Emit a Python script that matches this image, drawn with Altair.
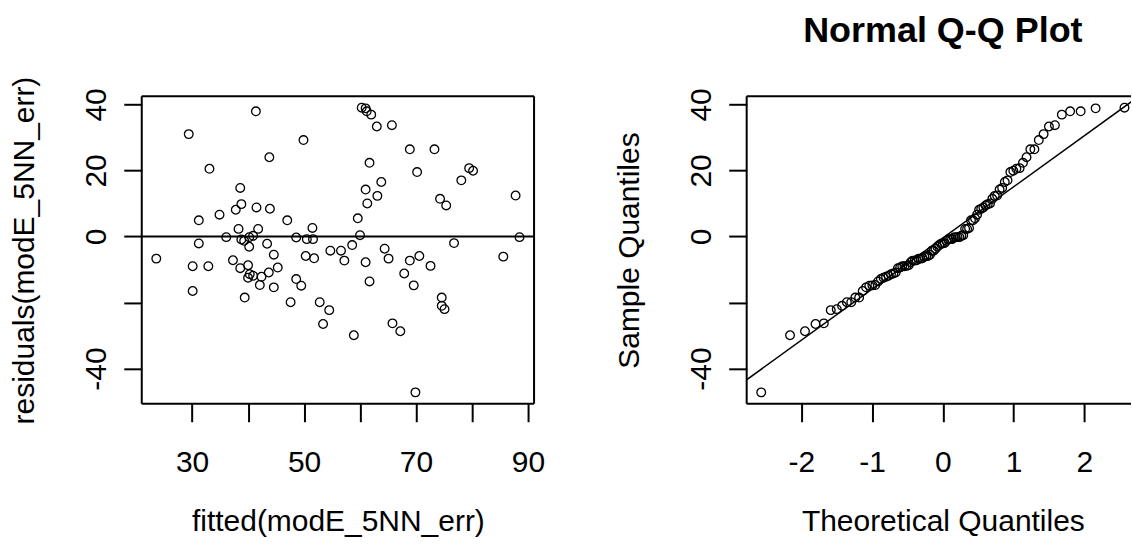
import altair as alt
import pandas as pd
from statistics import NormalDist

# ---- data (fitted values and residuals) ----
fitted = [41.4, 29.4, 49.9, 43.8, 33.1, 38.6, 38.8, 41.5, 43.9, 37.8, 34.9, 31.2, 47.0,
          38.3, 41.8, 51.5, 36.1, 38.8, 39.3, 40.2, 40.9, 40.2, 48.6, 50.5, 51.6, 31.2,
          43.4, 44.6, 23.6, 37.3, 30.1, 32.9, 38.6, 40.0, 45.3, 43.7, 42.4, 40.3, 40.9,
          40.0, 50.3, 51.8, 54.7, 48.6, 49.5, 42.1, 44.6, 30.1, 39.4, 47.6, 52.8, 54.5,
          53.4,
          60.3, 61.0, 61.2, 62.0, 63.0, 65.7, 68.9, 73.3, 61.7, 70.2, 79.5, 80.2, 78.1,
          63.8, 61.0, 63.1, 61.3, 74.3, 75.4, 87.8, 59.6, 60.0, 88.5, 76.8, 58.6, 56.6,
          57.2, 61.0, 64.4, 65.1, 68.9, 70.6, 85.6, 72.6, 67.9, 61.7, 69.6, 74.6, 74.6,
          75.1, 65.8, 67.2, 58.9, 69.9]
resid = [37.9, 31.0, 29.2, 24.0, 20.5, 14.7, 9.8, 8.8, 8.4, 8.1, 6.6, 4.9, 4.9,
         2.3, 2.3, 2.6, -0.2, -0.9, -1.3, -0.2, 0.2, -3.1, -0.3, -0.8, -0.8, -2.1,
         -2.2, -5.5, -6.7, -7.2, -9.0, -9.0, -9.6, -8.7, -9.4, -10.9, -12.2, -11.4, -11.9,
         -12.5, -5.9, -6.6, -4.3, -12.9, -14.9, -14.7, -15.4, -16.5, -18.5, -19.9, -19.9, -22.3,
         -26.5,
         39.0, 38.8, 37.9, 36.9, 33.3, 33.7, 26.4, 26.4, 22.3, 19.5, 20.7, 19.9, 17.0,
         16.5, 14.2, 12.3, 10.0, 11.4, 9.4, 12.4, 5.5, 0.4, -0.2, -2.0, -2.6, -4.3,
         -7.3, -7.8, -3.7, -6.7, -7.3, -5.9, -6.1, -8.9, -11.2, -13.6, -14.8, -18.5, -21.0,
         -22.0, -26.3, -28.7, -29.9, -47.2]
hline = [0]

left_xticks = [30, 40, 50, 60, 70, 80, 90]
yticks = [-40, -20, 0, 20, 40]
qq_xticks = [-2, -1, 0, 1, 2]

assert len(fitted) == len(resid)
n = len(resid)


def r_range(v):
    lo, hi = min(v), max(v)
    d = (hi - lo) * 0.04
    return [lo - d, hi + d]


# ---- Q-Q derived from the residuals ----
nd = NormalDist()
srt = sorted(resid)
a = 3 / 8 if n <= 10 else 0.5
theo = [nd.inv_cdf((i + 1 - a) / (n + 1 - 2 * a)) for i in range(n)]


def q7(s, p):
    h = (len(s) - 1) * p
    lo = int(h)
    hi = min(lo + 1, len(s) - 1)
    return s[lo] + (h - lo) * (s[hi] - s[lo])


y1, y2 = q7(srt, 0.25), q7(srt, 0.75)
x1, x2 = nd.inv_cdf(0.25), nd.inv_cdf(0.75)
slope = (y2 - y1) / (x2 - x1)
icpt = y1 - slope * x1

xdom = r_range(fitted)
ydom = r_range(resid)
tdom = r_range(theo)

W, H = 393, 308
WR = 385  # right panel is cut by the window edge
tdom_vis = [tdom[0], tdom[0] + (tdom[1] - tdom[0]) * WR / W]

FONT = "Liberation Sans"
FS = 30

df_pts = pd.DataFrame({"fitted": fitted, "resid": resid})
df_qq = pd.DataFrame({"theo": theo, "sample": srt})
df_h = pd.DataFrame({"h": hline})
df_line = pd.DataFrame({"x": [tdom[0] - 1, tdom[1] + 1],
                        "y": [icpt + slope * (tdom[0] - 1), icpt + slope * (tdom[1] + 1)]})
df_one = pd.DataFrame({"k": [0]})


def xaxis(values, expr, title):
    return alt.Axis(values=values, labelExpr=expr, title=title, grid=False, domain=False,
                    ticks=True, tickSize=18, tickWidth=2, tickColor="black",
                    labelFont=FONT, labelFontSize=FS, labelColor="black", labelPadding=50,
                    labelBaseline="alphabetic", labelAlign="center", labelFlush=False,
                    labelOverlap=False,
                    titleFont=FONT, titleFontSize=FS, titleFontWeight="normal",
                    titleColor="black", titleBaseline="alphabetic", titleAlign="center",
                    titleX=W / 2, titleY=127)


def yaxis(title):
    return alt.Axis(values=yticks,
                    labelExpr="datum.value == -20 ? '' : toString(datum.value)",
                    title=title, grid=False, domain=False,
                    ticks=True, tickSize=18, tickWidth=2, tickColor="black",
                    labelFont=FONT, labelFontSize=FS, labelColor="black", labelPadding=18,
                    labelAngle=-90, labelAlign="center", labelBaseline="alphabetic",
                    labelFlush=False, labelOverlap=False,
                    titleFont=FONT, titleFontSize=FS, titleFontWeight="normal",
                    titleColor="black", titleAngle=-90, titleBaseline="alphabetic",
                    titleAlign="center", titleX=-108, titleY=H / 2)


def box(width, right=True):
    base = alt.Chart(df_one)
    parts = [
        base.mark_rule(color="black", strokeWidth=2).encode(
            x=alt.value(0), x2=alt.value(width), y=alt.value(0)),
        base.mark_rule(color="black", strokeWidth=2).encode(
            x=alt.value(0), x2=alt.value(width), y=alt.value(H)),
        base.mark_rule(color="black", strokeWidth=2).encode(
            x=alt.value(0), y=alt.value(0), y2=alt.value(H)),
    ]
    if right:
        parts.append(base.mark_rule(color="black", strokeWidth=2).encode(
            x=alt.value(width), y=alt.value(0), y2=alt.value(H)))
    return parts


# ---- left panel: residuals vs fitted ----
lx = alt.X("fitted:Q", scale=alt.Scale(domain=xdom, nice=False, zero=False),
           axis=xaxis(left_xticks,
                      "(datum.value - 30) % 20 == 0 ? toString(datum.value) : ''",
                      "fitted(modE_5NN_err)"))
ly = alt.Y("resid:Q", scale=alt.Scale(domain=ydom, nice=False, zero=False),
           axis=yaxis("residuals(modE_5NN_err)"))

left_pts = alt.Chart(df_pts).mark_point(shape="circle", filled=False, color="black",
                                        size=75, strokeWidth=1.3, opacity=1).encode(x=lx, y=ly)
left_h = alt.Chart(df_h).mark_rule(color="black", strokeWidth=2).encode(
    y=alt.Y("h:Q"))

left = alt.layer(left_h, left_pts, *box(W)).properties(width=W, height=H)

# ---- right panel: normal Q-Q plot ----
rx = alt.X("theo:Q", scale=alt.Scale(domain=tdom_vis, nice=False, zero=False),
           axis=xaxis(qq_xticks, "toString(datum.value)", "Theoretical Quantiles"))
ry = alt.Y("sample:Q", scale=alt.Scale(domain=ydom, nice=False, zero=False),
           axis=yaxis("Sample Quantiles"))

qq_pts = alt.Chart(df_qq).mark_point(shape="circle", filled=False, color="black",
                                     size=75, strokeWidth=1.3, opacity=1,
                                     clip=True).encode(x=rx, y=ry)
qq_line = alt.Chart(df_line).mark_line(color="black", strokeWidth=1.5, clip=True).encode(
    x=alt.X("x:Q"), y=alt.Y("y:Q"))

right = alt.layer(qq_line, qq_pts, *box(WR, right=False)).properties(
    width=WR, height=H,
    title=alt.TitleParams("Normal Q-Q Plot", font=FONT, fontSize=36, fontWeight="bold",
                          color="black", anchor="middle", baseline="alphabetic",
                          offset=10, dx=4, frame="group"))

chart = alt.hconcat(left, right, spacing=213, bounds="flush").properties(
    padding={"left": 9, "top": 12, "right": 0, "bottom": 0},
    background="white",
).configure_view(stroke=None)

chart.save("out.html", embed_options={"renderer": "svg", "actions": False})
